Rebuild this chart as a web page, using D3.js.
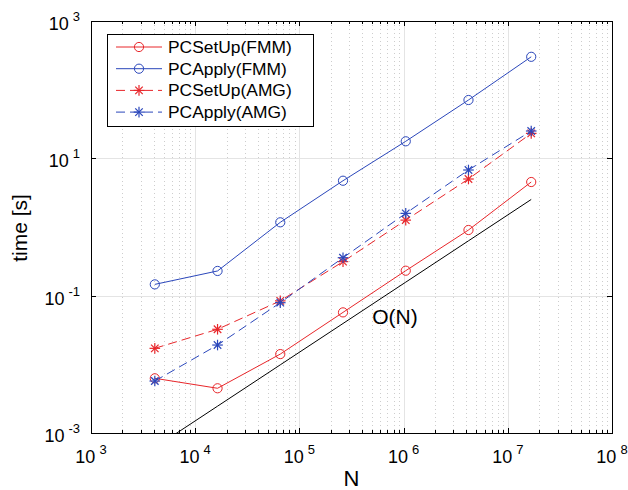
<!DOCTYPE html>
<html>
<head>
<meta charset="utf-8">
<script src="https://cdn.jsdelivr.net/npm/d3@7"></script>
<style>
  html, body { margin: 0; padding: 0; background: #fff; }
  svg { display: block; font-family: "Liberation Sans", Arial, Helvetica, sans-serif; }
</style>
</head>
<body>
<svg id="chart" width="628" height="490"></svg>
<script>
// Problem sizes (number of unknowns)
const N = [4096, 16384, 65536, 262144, 1048576, 4194304, 16777216];

// Timings in seconds
const setupFMM = [0.00626, 0.00448, 0.0141, 0.0571, 0.231, 0.904, 4.52];
const applyFMM = [0.146, 0.229, 1.17, 4.72, 17.7, 70.7, 301];
const setupAMG = [0.0171, 0.0324, 0.084, 0.313, 1.26, 5.0, 23.1];
const applyAMG = [0.00571, 0.0191, 0.079, 0.357, 1.58, 6.76, 25.0];

// Reference slope O(N): t = c * N
const refCoeff = 1.5e-7;
const refLine = N.map(n => refCoeff * n);

// Axis ticks
const xTickExps = [3, 4, 5, 6, 7, 8];
const yTickExps = [-3, -1, 1, 3];

const seriesNames = ["PCSetUp(FMM)", "PCApply(FMM)", "PCSetUp(AMG)", "PCApply(AMG)"];

const RED = "#e8262a";
const BLUE = "#2b47bb";

const series = [
  { name: seriesNames[0], values: setupFMM, color: RED, dash: null, marker: "circle" },
  { name: seriesNames[1], values: applyFMM, color: BLUE, dash: null, marker: "circle" },
  { name: seriesNames[2], values: setupAMG, color: RED, dash: "9,5", marker: "star" },
  { name: seriesNames[3], values: applyAMG, color: BLUE, dash: "9,5", marker: "star" }
];

const svg = d3.select("#chart");
const plot = { left: 91, right: 612, top: 21, bottom: 433 };

const x = d3.scaleLog().domain([1e3, 1e8]).range([plot.left, plot.right]);
const y = d3.scaleLog().domain([1e-3, 1e3]).range([plot.bottom, plot.top]);

// Grid: minor vertical dotted lines, major solid lines
const minorX = [];
for (let e = 3; e < 8; e++) for (let m = 2; m <= 9; m++) minorX.push(m * Math.pow(10, e));

const grid = svg.append("g");
grid.selectAll("line.minor").data(minorX).join("line")
  .attr("x1", d => Math.round(x(d)) + 0.5).attr("x2", d => Math.round(x(d)) + 0.5)
  .attr("y1", plot.top).attr("y2", plot.bottom)
  .attr("stroke", "#cdcdcd").attr("stroke-width", 1).attr("stroke-dasharray", "1,3");
grid.selectAll("line.vmaj").data(xTickExps.slice(1, -1)).join("line")
  .attr("x1", d => Math.round(x(Math.pow(10, d))) + 0.5).attr("x2", d => Math.round(x(Math.pow(10, d))) + 0.5)
  .attr("y1", plot.top).attr("y2", plot.bottom)
  .attr("stroke", "#e4e4e4").attr("stroke-width", 1);
grid.selectAll("line.hmaj").data(yTickExps.slice(1, -1)).join("line")
  .attr("x1", plot.left).attr("x2", plot.right)
  .attr("y1", d => Math.round(y(Math.pow(10, d))) + 0.5).attr("y2", d => Math.round(y(Math.pow(10, d))) + 0.5)
  .attr("stroke", "#e4e4e4").attr("stroke-width", 1);

// Clip region for plotted data
svg.append("defs").append("clipPath").attr("id", "clip")
  .append("rect").attr("x", plot.left).attr("y", plot.top)
  .attr("width", plot.right - plot.left).attr("height", plot.bottom - plot.top);

const data = svg.append("g").attr("clip-path", "url(#clip)");
const line = d3.line().x((d, i) => x(N[i])).y(d => y(d));

// O(N) reference line
data.append("path").datum(refLine)
  .attr("d", line).attr("fill", "none").attr("stroke", "#000").attr("stroke-width", 1);

function drawStar(g, cx, cy, r, color) {
  const d = r * Math.SQRT1_2;
  const segs = [[-r, 0, r, 0], [0, -r, 0, r], [-d, -d, d, d], [-d, d, d, -d]];
  segs.forEach(s => g.append("line")
    .attr("x1", cx + s[0]).attr("y1", cy + s[1]).attr("x2", cx + s[2]).attr("y2", cy + s[3])
    .attr("stroke", color).attr("stroke-width", 1.2));
}

function drawMarker(g, kind, cx, cy, color) {
  if (kind === "circle") {
    g.append("circle").attr("cx", cx).attr("cy", cy).attr("r", 4.6)
      .attr("fill", "none").attr("stroke", color).attr("stroke-width", 1);
  } else {
    drawStar(g, cx, cy, 5.3, color);
  }
}

series.forEach(s => {
  const g = data.append("g");
  g.append("path").datum(s.values)
    .attr("d", line).attr("fill", "none")
    .attr("stroke", s.color).attr("stroke-width", 1)
    .attr("stroke-dasharray", s.dash);
  s.values.forEach((v, i) => drawMarker(g, s.marker, x(N[i]), y(v), s.color));
});

// O(N) annotation
svg.append("text").attr("x", x(5e5)).attr("y", y(0.05))
  .attr("dominant-baseline", "central")
  .attr("font-size", 21).attr("fill", "#000").text("O(N)");

// Axes frame
const axes = svg.append("g");
axes.append("rect")
  .attr("x", plot.left + 0.5).attr("y", plot.top + 0.5)
  .attr("width", plot.right - plot.left).attr("height", plot.bottom - plot.top)
  .attr("fill", "none").attr("stroke", "#000").attr("stroke-width", 1);

// Inward ticks on all four sides
const tickG = axes.append("g").attr("stroke", "#000").attr("stroke-width", 1);
xTickExps.forEach(e => {
  const px = Math.round(x(Math.pow(10, e))) + 0.5;
  tickG.append("line").attr("x1", px).attr("x2", px).attr("y1", plot.bottom).attr("y2", plot.bottom - 5);
  tickG.append("line").attr("x1", px).attr("x2", px).attr("y1", plot.top).attr("y2", plot.top + 5);
});
minorX.forEach(v => {
  const px = Math.round(x(v)) + 0.5;
  tickG.append("line").attr("x1", px).attr("x2", px).attr("y1", plot.bottom).attr("y2", plot.bottom - 3);
  tickG.append("line").attr("x1", px).attr("x2", px).attr("y1", plot.top).attr("y2", plot.top + 3);
});
yTickExps.forEach(e => {
  const py = Math.round(y(Math.pow(10, e))) + 0.5;
  tickG.append("line").attr("x1", plot.left).attr("x2", plot.left + 5).attr("y1", py).attr("y2", py);
  tickG.append("line").attr("x1", plot.right).attr("x2", plot.right - 5).attr("y1", py).attr("y2", py);
});

// Tick labels as 10 with a raised exponent
function powerLabel(sel, e) {
  sel.append("tspan").attr("font-size", 18).text("10");
  sel.append("tspan").attr("font-size", 13).attr("dx", 4).attr("dy", -9).text(e);
}
xTickExps.forEach(e => {
  const t = svg.append("text").attr("x", x(Math.pow(10, e))).attr("y", 463)
    .attr("text-anchor", "middle").attr("fill", "#000");
  powerLabel(t, e);
});
yTickExps.forEach(e => {
  const t = svg.append("text").attr("x", 80).attr("y", y(Math.pow(10, e)) + 9)
    .attr("text-anchor", "end").attr("fill", "#000");
  powerLabel(t, e);
});

// Axis titles
svg.append("text").attr("x", (plot.left + plot.right) / 2).attr("y", 486)
  .attr("text-anchor", "middle").attr("font-size", 22).attr("fill", "#000").text("N");
svg.append("text").attr("transform", "translate(27,228) rotate(-90)")
  .attr("text-anchor", "middle").attr("font-size", 21).attr("fill", "#000").text("time [s]");

// Legend
const legend = svg.append("g");
legend.append("rect").attr("x", 107.5).attr("y", 34.5).attr("width", 206).attr("height", 92)
  .attr("fill", "#fff").attr("stroke", "#000").attr("stroke-width", 1);
series.forEach((s, i) => {
  const cy = 47 + i * 21.7;
  const row = legend.append("g");
  row.append("line").attr("x1", 116).attr("x2", 162).attr("y1", cy).attr("y2", cy)
    .attr("stroke", s.color).attr("stroke-width", 1).attr("stroke-dasharray", s.dash ? "9,5" : null);
  drawMarker(row, s.marker, 139, cy, s.color);
  row.append("text").attr("x", 168).attr("y", cy + 6).attr("font-size", 17.4)
    .attr("fill", "#000").text(s.name);
});
</script>
</body>
</html>
